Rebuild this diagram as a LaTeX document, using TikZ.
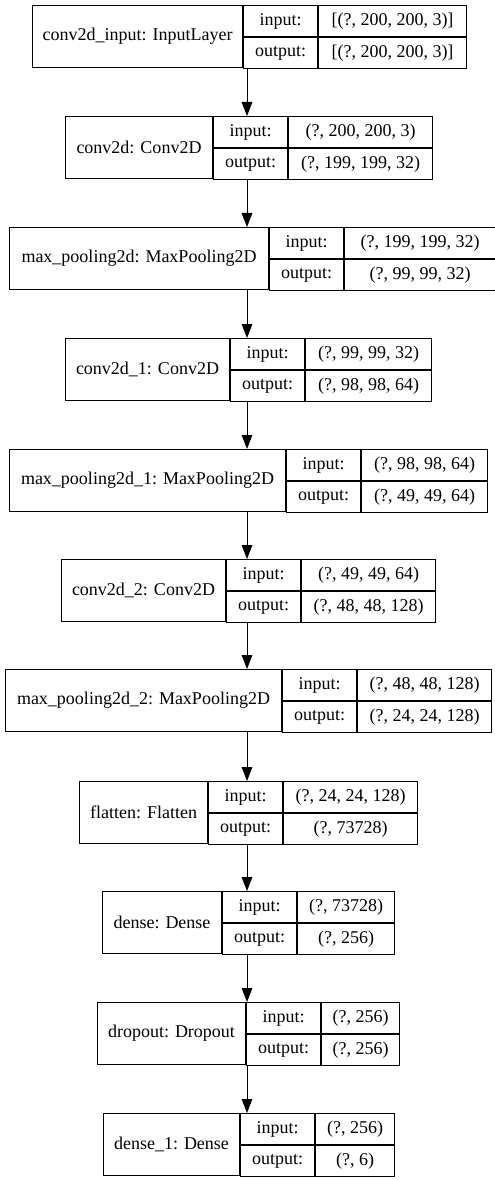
\documentclass[tikz,border=0pt]{standalone}
\usepackage{fontspec}
\setmainfont{Liberation Serif}
\usetikzlibrary{arrows.meta}
\tikzset{
layerfont/.style={font=\fontsize{13.5}{16}\selectfont},
namecell/.style={rectangle, draw=black, line width=0.75pt, inner sep=0pt, minimum width=#1*0.75pt, minimum height=62*0.75pt, anchor=north west, layerfont},
iocell/.style={rectangle, draw=black, line width=0.75pt, inner sep=0pt, minimum width=74*0.75pt, minimum height=31*0.75pt, anchor=north west, layerfont},
shapecell/.style={rectangle, draw=black, line width=0.75pt, inner sep=0pt, minimum width=#1*0.75pt, minimum height=31*0.75pt, anchor=north west, layerfont},
flowarrow/.style={draw=black, line width=0.75pt, -{Triangle[length=10.5pt,width=8pt]}},
}
\begin{document}
\begin{tikzpicture}[x=0.75pt,y=-0.75pt]
\useasboundingbox[fill=white] (0,0) rectangle (495,1180);
\coordinate (axis) at (247,0);

% conv2d_input
\node[namecell=210] at (32,5) (inp) {conv2d\_input: InputLayer};
\node[iocell] at (inp.north east) (inpi) {input:};
\node[iocell] at (inpi.south west) (inpo) {output:};
\node[shapecell=148] at (inpi.north east) (inpis) {[(?, 200, 200, 3)]};
\node[shapecell=148] at (inpo.north east) (inpos) {[(?, 200, 200, 3)]};

% conv2d
\node[namecell=147] at (65,116) (conv) {conv2d: Conv2D};
\node[iocell] at (conv.north east) (convi) {input:};
\node[iocell] at (convi.south west) (convo) {output:};
\node[shapecell=144] at (convi.north east) (convis) {(?, 200, 200, 3)};
\node[shapecell=144] at (convo.north east) (convos) {(?, 199, 199, 32)};

% max_pooling2d
\node[namecell=259] at (9,227) (pool) {max\_pooling2d: MaxPooling2D};
\node[iocell] at (pool.north east) (pooli) {input:};
\node[iocell] at (pooli.south west) (poolo) {output:};
\node[shapecell=151] at (pooli.north east) (poolis) {(?, 199, 199, 32)};
\node[shapecell=151] at (poolo.north east) (poolos) {(?, 99, 99, 32)};

% conv2d_1
\node[namecell=164] at (65,338) (conva) {conv2d\_1: Conv2D};
\node[iocell] at (conva.north east) (convai) {input:};
\node[iocell] at (convai.south west) (convao) {output:};
\node[shapecell=126] at (convai.north east) (convais) {(?, 99, 99, 32)};
\node[shapecell=126] at (convao.north east) (convaos) {(?, 98, 98, 64)};

% max_pooling2d_1
\node[namecell=276] at (9,449) (poola) {max\_pooling2d\_1: MaxPooling2D};
\node[iocell] at (poola.north east) (poolai) {input:};
\node[iocell] at (poolai.south west) (poolao) {output:};
\node[shapecell=126] at (poolai.north east) (poolais) {(?, 98, 98, 64)};
\node[shapecell=126] at (poolao.north east) (poolaos) {(?, 49, 49, 64)};

% conv2d_2
\node[namecell=164] at (61,559) (convb) {conv2d\_2: Conv2D};
\node[iocell] at (convb.north east) (convbi) {input:};
\node[iocell] at (convbi.south west) (convbo) {output:};
\node[shapecell=134] at (convbi.north east) (convbis) {(?, 49, 49, 64)};
\node[shapecell=134] at (convbo.north east) (convbos) {(?, 48, 48, 128)};

% max_pooling2d_2
\node[namecell=276] at (5,669) (poolb) {max\_pooling2d\_2: MaxPooling2D};
\node[iocell] at (poolb.north east) (poolbi) {input:};
\node[iocell] at (poolbi.south west) (poolbo) {output:};
\node[shapecell=134] at (poolbi.north east) (poolbis) {(?, 48, 48, 128)};
\node[shapecell=134] at (poolbo.north east) (poolbos) {(?, 24, 24, 128)};

% flatten
\node[namecell=128] at (79,781) (flat) {flatten: Flatten};
\node[iocell] at (flat.north east) (flati) {input:};
\node[iocell] at (flati.south west) (flato) {output:};
\node[shapecell=134] at (flati.north east) (flatis) {(?, 24, 24, 128)};
\node[shapecell=134] at (flato.north east) (flatos) {(?, 73728)};

% dense
\node[namecell=119] at (102,891) (dense) {dense: Dense};
\node[iocell] at (dense.north east) (densei) {input:};
\node[iocell] at (densei.south west) (denseo) {output:};
\node[shapecell=97] at (densei.north east) (denseis) {(?, 73728)};
\node[shapecell=97] at (denseo.north east) (denseos) {(?, 256)};

% dropout
\node[namecell=148] at (97,1002) (drop) {dropout: Dropout};
\node[iocell] at (drop.north east) (dropi) {input:};
\node[iocell] at (dropi.south west) (dropo) {output:};
\node[shapecell=78] at (dropi.north east) (dropis) {(?, 256)};
\node[shapecell=78] at (dropo.north east) (dropos) {(?, 256)};

% dense_1
\node[namecell=136] at (103,1113) (densea) {dense\_1: Dense};
\node[iocell] at (densea.north east) (denseai) {input:};
\node[iocell] at (denseai.south west) (denseao) {output:};
\node[shapecell=79] at (denseai.north east) (denseais) {(?, 256)};
\node[shapecell=79] at (denseao.north east) (denseaos) {(?, 6)};

% edges
\draw[flowarrow] (inp.south -| axis) -- (conv.north -| axis);
\draw[flowarrow] (conv.south -| axis) -- (pool.north -| axis);
\draw[flowarrow] (pool.south -| axis) -- (conva.north -| axis);
\draw[flowarrow] (conva.south -| axis) -- (poola.north -| axis);
\draw[flowarrow] (poola.south -| axis) -- (convb.north -| axis);
\draw[flowarrow] (convb.south -| axis) -- (poolb.north -| axis);
\draw[flowarrow] (poolb.south -| axis) -- (flat.north -| axis);
\draw[flowarrow] (flat.south -| axis) -- (dense.north -| axis);
\draw[flowarrow] (dense.south -| axis) -- (drop.north -| axis);
\draw[flowarrow] (drop.south -| axis) -- (densea.north -| axis);
\end{tikzpicture}
\end{document}
